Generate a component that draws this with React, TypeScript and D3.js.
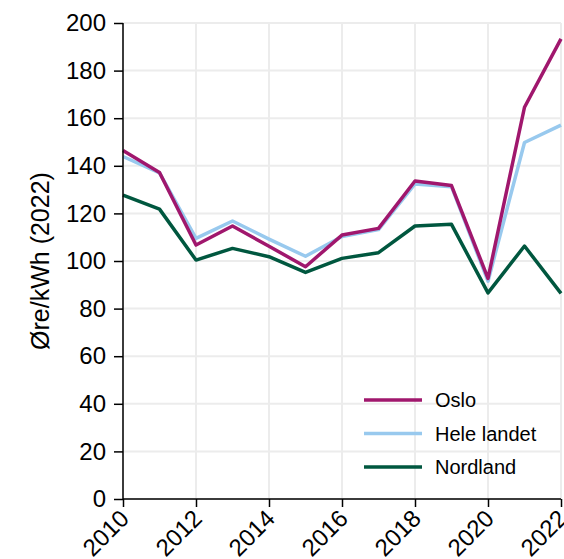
import React, { useEffect, useRef } from 'react';
import * as d3 from 'd3';

// Årstall og priser (øre/kWh, 2022-kroner)
const years = [2010, 2011, 2012, 2013, 2014, 2015, 2016, 2017, 2018, 2019, 2020, 2021, 2022];
const oslo = [146.4, 137.2, 106.7, 114.7, 106.2, 97.6, 110.9, 113.7, 133.6, 131.7, 92.7, 164.6, 193.3];
const heleLandet = [143.9, 137.0, 109.5, 116.8, 109.2, 102.0, 110.3, 113.2, 132.4, 131.2, 91.5, 149.8, 157.1];
const nordland = [127.7, 121.8, 100.4, 105.3, 101.8, 95.2, 101.1, 103.5, 114.7, 115.4, 86.6, 106.3, 86.4];

const seriesNames = ['Oslo', 'Hele landet', 'Nordland'];
const seriesColors = ['#a0176d', '#98c9ee', '#00573f'];
const yTicks = [0, 20, 40, 60, 80, 100, 120, 140, 160, 180, 200];
const xTicks = [2010, 2012, 2014, 2016, 2018, 2020, 2022];

const W = 564;
const H = 559;
const margin = { top: 23, right: 3, bottom: 60, left: 123 };

const App: React.FC = () => {
  const svgRef = useRef<SVGSVGElement>(null);

  useEffect(() => {
    if (!svgRef.current) return;
    const svg = d3.select(svgRef.current);
    svg.selectAll('*').remove();

    const x = d3.scaleLinear().domain([2010, 2022]).range([margin.left, W - margin.right]);
    const y = d3.scaleLinear().domain([0, 200]).range([H - margin.bottom, margin.top]);
    const font = 'Liberation Sans, Arial, sans-serif';

    // grid
    const grid = svg.append('g').attr('stroke', '#ececec').attr('stroke-width', 2);
    yTicks.forEach(t => {
      grid.append('line')
        .attr('x1', margin.left).attr('x2', W - margin.right)
        .attr('y1', y(t)).attr('y2', y(t));
    });
    xTicks.forEach(t => {
      grid.append('line')
        .attr('x1', x(t)).attr('x2', x(t))
        .attr('y1', margin.top).attr('y2', H - margin.bottom);
    });

    // lines, Nordland at the bottom
    const all = [oslo, heleLandet, nordland];
    const line = d3.line<number>()
      .x((d, i) => x(years[i]))
      .y(d => y(d));
    [2, 1, 0].forEach(i => {
      svg.append('path')
        .datum(all[i])
        .attr('fill', 'none')
        .attr('stroke', seriesColors[i])
        .attr('stroke-width', 3.5)
        .attr('stroke-linejoin', 'round')
        .attr('d', line);
    });

    // y axis
    const yAxis = svg.append('g')
      .attr('transform', `translate(${margin.left},0)`)
      .call(d3.axisLeft(y).tickValues(yTicks).tickSize(9).tickPadding(8).tickFormat(d3.format('d')));
    yAxis.selectAll('path, line').attr('stroke', '#000').attr('stroke-width', 1.5);
    yAxis.select('.domain').attr('d', `M0,${margin.top}V${H - margin.bottom}`);
    yAxis.selectAll('text').attr('font-size', 24).attr('font-family', font).attr('fill', '#000');

    // x axis
    const xAxis = svg.append('g')
      .attr('transform', `translate(0,${H - margin.bottom})`)
      .call(d3.axisBottom(x).tickValues(xTicks).tickSize(8).tickFormat(d3.format('d')));
    xAxis.selectAll('path, line').attr('stroke', '#000').attr('stroke-width', 1.5);
    xAxis.select('.domain').attr('d', `M${margin.left},0H${W - margin.right}`);
    xAxis.selectAll('text')
      .attr('font-size', 24).attr('font-family', font).attr('fill', '#000')
      .attr('text-anchor', 'end')
      .attr('y', 0).attr('dy', '0.35em')
      .attr('transform', 'translate(1,15) rotate(-45)');

    // y label
    svg.append('text')
      .attr('transform', `translate(49,${(margin.top + H - margin.bottom) / 2}) rotate(-90)`)
      .attr('text-anchor', 'middle')
      .attr('font-size', 25)
      .attr('font-family', font)
      .text('Øre/kWh (2022)');

    // legend
    const legend = svg.append('g');
    seriesNames.forEach((name, i) => {
      const ly = 400 + i * 33.5;
      legend.append('line')
        .attr('x1', 364).attr('x2', 422).attr('y1', ly).attr('y2', ly)
        .attr('stroke', seriesColors[i]).attr('stroke-width', 3.5);
      legend.append('text')
        .attr('x', 435).attr('y', ly).attr('dy', '0.35em')
        .attr('font-size', 20).attr('font-family', font)
        .text(name);
    });
  }, []);

  return (
    <div style={{ position: 'absolute', left: 0, top: 0 }}>
      <svg ref={svgRef} width={W} height={H} style={{ display: 'block', background: '#fff' }} />
    </div>
  );
};

export default App;
